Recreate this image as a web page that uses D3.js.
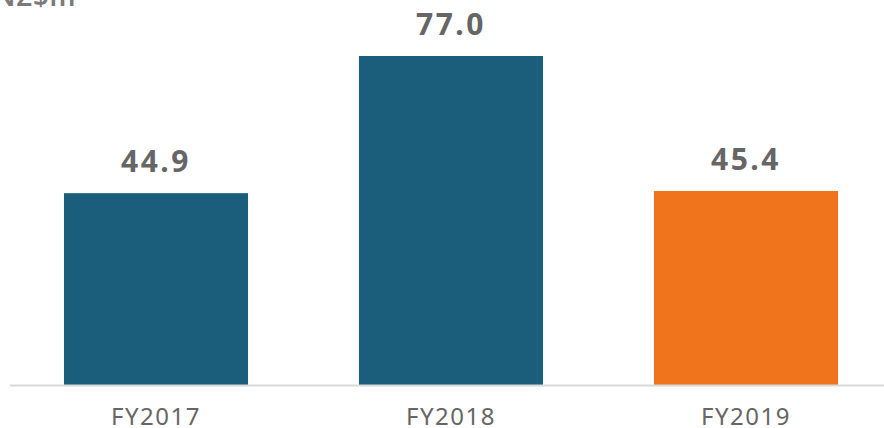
<!DOCTYPE html>
<html>
<head>
<meta charset="utf-8">
<script src="https://cdn.jsdelivr.net/npm/d3@7"></script>
<style>
  html, body { margin: 0; padding: 0; background: #fff; }
  svg { display: block; }
</style>
</head>
<body>
<svg id="chart" width="884" height="428"></svg>
<script>
// chart data
var years = ["FY2017", "FY2018", "FY2019"]
var values = [44.9, 77.0, 45.4]
var barColours = ["#1b5e7c", "#1b5e7c", "#ef741c"]
var unitLabel = "NZ$m"

var svg = d3.select("#chart"),
  width = +svg.attr("width"),
  height = +svg.attr("height");

var baseY = 385

// band scale: step 295, bar 184
var x = d3.scaleBand()
  .domain(years)
  .range([8.5, 893.5])
  .paddingInner(0.376)
  .paddingOuter(0.188)

var y = d3.scaleLinear()
  .domain([0, 77])
  .range([baseY, 56])

var rows = years.map(function(d, i) { return {year: d, value: values[i], colour: barColours[i]} })

// bars
svg.append("g")
  .selectAll("rect")
  .data(rows)
  .enter().append("rect")
  .attr("x", function(d) { return x(d.year) })
  .attr("width", x.bandwidth())
  .attr("y", function(d) { return y(d.value) })
  .attr("height", function(d) { return baseY - y(d.value) })
  .style("fill", function(d) { return d.colour })

// baseline
svg.append("line")
  .attr("x1", 10).attr("x2", width)
  .attr("y1", baseY + 0.5).attr("y2", baseY + 0.5)
  .style("stroke", "#d9d9d9")
  .style("stroke-width", 2)

// value labels
svg.append("g")
  .selectAll("text")
  .data(rows)
  .enter().append("text")
  .attr("x", function(d) { return x(d.year) + x.bandwidth() / 2 })
  .attr("y", function(d) { return y(d.value) - 21 })
  .attr("text-anchor", "middle")
  .style("font-family", "'Noto Sans', sans-serif")
  .style("font-weight", "bold")
  .style("font-size", "30px")
  .style("letter-spacing", "2.5px")
  .style("fill", "#666666")
  .text(function(d) { return d.value.toFixed(1) })

// category axis labels
var xAxis = d3.axisBottom(x).tickSize(0).tickPadding(0)
var gx = svg.append("g")
  .attr("transform", "translate(0," + baseY + ")")
  .call(xAxis)
gx.select(".domain").remove()
gx.selectAll("text")
  .attr("dy", 0)
  .attr("y", 40)
  .style("font-family", "'Noto Sans', sans-serif")
  .style("font-size", "24px")
  .style("letter-spacing", "1.5px")
  .style("fill", "#666666")

// unit label (cut off at the top left)
svg.append("text")
  .attr("x", -6)
  .attr("y", 6)
  .style("font-family", "'Noto Sans', sans-serif")
  .style("font-weight", "600")
  .style("font-size", "27px")
  .style("letter-spacing", "1px")
  .style("fill", "#7a7a7a")
  .text(unitLabel)
</script>
</body>
</html>
